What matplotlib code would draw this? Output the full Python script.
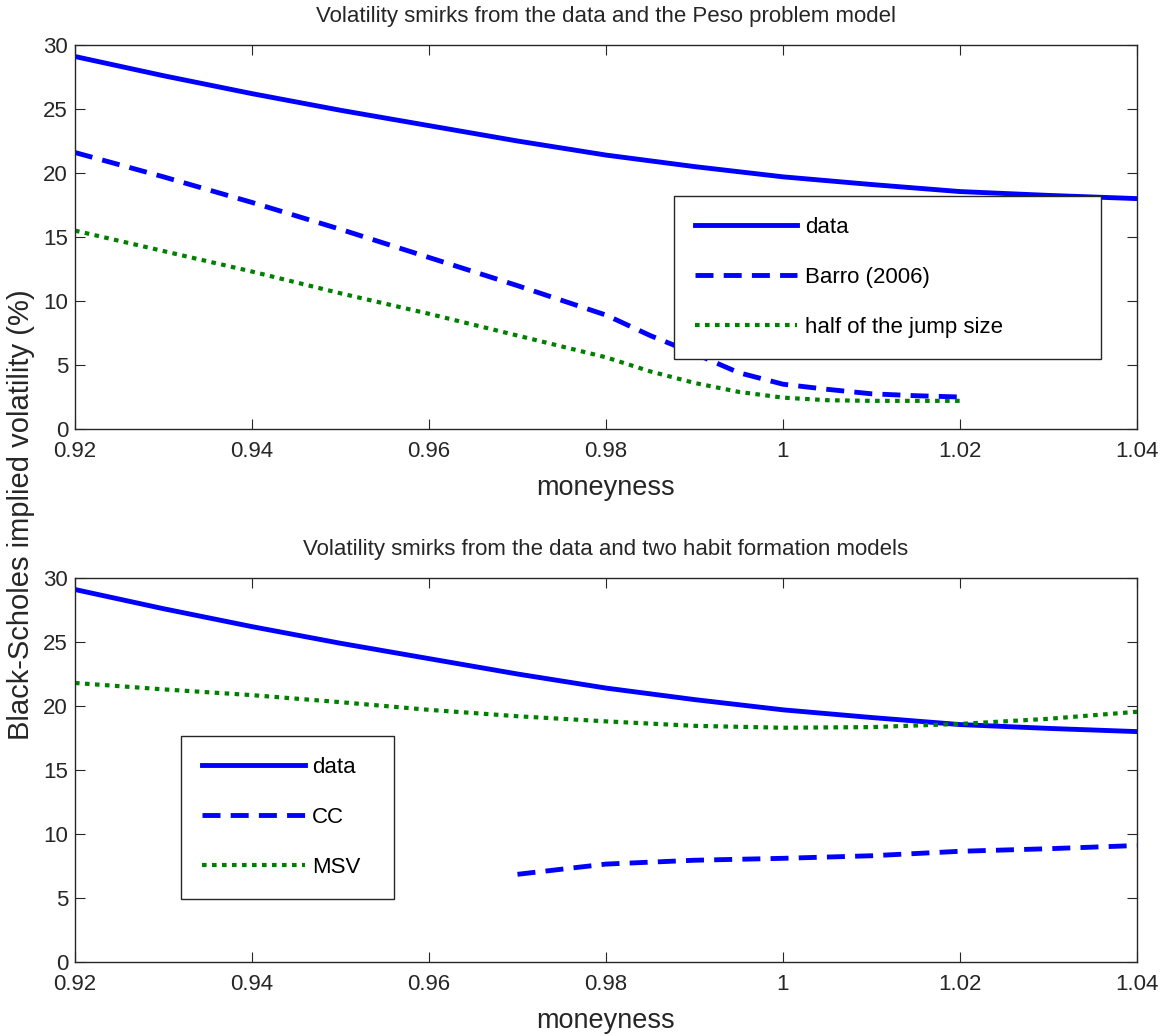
import numpy as np
import matplotlib
matplotlib.use('Agg')
import matplotlib.pyplot as plt

plt.rcParams['font.family'] = ['Liberation Sans', 'DejaVu Sans']

# moneyness grid and smirk values (implied vol, %)
money = [0.92, 0.93, 0.94, 0.95, 0.96, 0.97, 0.98, 0.99, 1.00, 1.01, 1.02, 1.03, 1.04]
vol_data = [29.1, 27.6, 26.2, 24.9, 23.7, 22.5, 21.4, 20.5, 19.7, 19.1, 18.55, 18.25, 18.0]

# Peso problem model (top panel)
money_peso = [0.92, 0.93, 0.94, 0.95, 0.96, 0.97, 0.98, 0.985, 0.99, 0.995, 1.00, 1.005, 1.01, 1.015, 1.02]
vol_barro = [21.6, 19.7, 17.7, 15.6, 13.4, 11.2, 8.9, 7.3, 5.9, 4.4, 3.5, 3.1, 2.75, 2.6, 2.5]
vol_half = [15.5, 13.9, 12.3, 10.6, 9.0, 7.3, 5.6, 4.5, 3.6, 2.9, 2.45, 2.25, 2.2, 2.2, 2.2]

# habit formation models (bottom panel)
money_cc = [0.97, 0.98, 0.99, 1.00, 1.01, 1.02, 1.03, 1.04]
vol_cc = [6.85, 7.65, 7.95, 8.1, 8.3, 8.65, 8.85, 9.1]
vol_msv = [21.8, 21.3, 20.85, 20.3, 19.7, 19.2, 18.8, 18.45, 18.3, 18.35, 18.6, 19.0, 19.55]

xticks = [0.92, 0.94, 0.96, 0.98, 1.0, 1.02, 1.04]
xticklabels = ['0.92', '0.94', '0.96', '0.98', '1', '1.02', '1.04']
yticks = [0, 5, 10, 15, 20, 25, 30]

blue = (0, 0, 1)
green = (0, 0.5, 0)
dash = (0, (3.7, 2.1))
dot = (0, (1.1, 1.3))

fig = plt.figure(figsize=(11.65, 10.36), dpi=100)
ax1 = fig.add_axes([75 / 1165, 1 - 429 / 1036, 1062 / 1165, 384 / 1036])
ax2 = fig.add_axes([75 / 1165, 1 - 962 / 1036, 1062 / 1165, 384 / 1036])


def style_axes(ax, title):
    ax.set_xlim(0.92, 1.04)
    ax.set_ylim(0, 30)
    ax.set_xticks(xticks)
    ax.set_xticklabels(xticklabels)
    ax.set_yticks(yticks)
    ax.tick_params(direction='in', length=7, width=0.8, pad=5, labelsize=16,
                   top=True, right=True, colors='#262626')
    ax.tick_params(axis='x', pad=8.5)
    for s in ax.spines.values():
        s.set_linewidth(1.0)
        s.set_color('#262626')
    ax.set_xlabel('moneyness', fontsize=19.5, va='center', color='#262626')
    ax.xaxis.set_label_coords(0.5, -59 / 384)
    ax.text(0.5, 1 + 29 / 384, title, transform=ax.transAxes, ha='center',
            va='center', fontsize=16, color='#262626')


style_axes(ax1, 'Volatility smirks from the data and the Peso problem model')
ax1.plot(money, vol_data, color=blue, lw=3.5, label='data')
ax1.plot(money_peso, vol_barro, color=blue, lw=3.5, ls=dash, label='Barro (2006)')
ax1.plot(money_peso, vol_half, color=green, lw=3.0, ls=dot, label='half of the jump size')
leg1 = ax1.legend(loc='upper left', bbox_to_anchor=(0.564, 0.607, 0.402, 0.0),
                  mode='expand', borderaxespad=0, fontsize=16, handlelength=4.6,
                  handletextpad=0.35, labelspacing=1.3, borderpad=0.95,
                  fancybox=False, framealpha=1, edgecolor='#262626')
leg1.get_frame().set_linewidth(1.0)

style_axes(ax2, 'Volatility smirks from the data and two habit formation models')
ax2.plot(money, vol_data, color=blue, lw=3.5, label='data')
ax2.plot(money_cc, vol_cc, color=blue, lw=3.5, ls=dash, label='CC')
ax2.plot(money, vol_msv, color=green, lw=3.0, ls=dot, label='MSV')
leg2 = ax2.legend(loc='upper left', bbox_to_anchor=(0.1, 0.589, 0.2, 0.0),
                  mode='expand', borderaxespad=0, fontsize=16, handlelength=4.6,
                  handletextpad=0.35, labelspacing=1.3, borderpad=0.95,
                  fancybox=False, framealpha=1, edgecolor='#262626')
leg2.get_frame().set_linewidth(1.0)

fig.text(21 / 1165, 1 - 515 / 1036, 'Black-Scholes implied volatility (%)',
         rotation=90, ha='center', va='center', fontsize=21, color='#262626')

fig.savefig('out.png', dpi=100)
